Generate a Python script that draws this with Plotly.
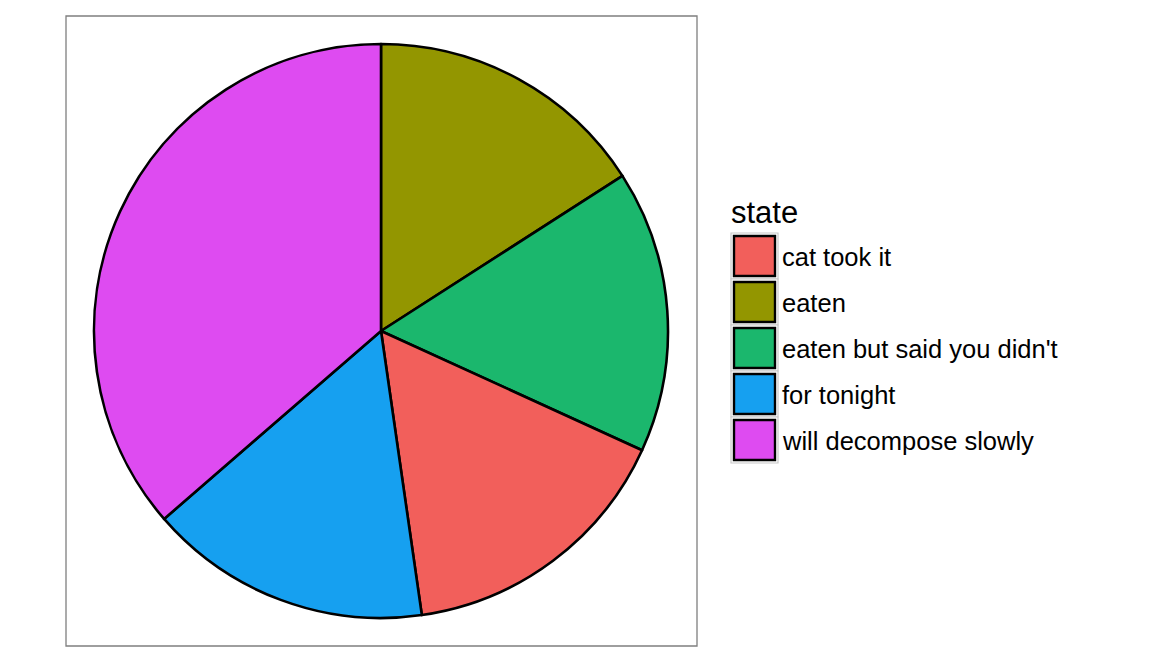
import plotly.graph_objects as go

# Data (slice order clockwise from 12 o'clock)
slice_labels = ["eaten", "eaten but said you didn't", "cat took it", "for tonight", "will decompose slowly"]
slice_values = [7, 7, 7, 7, 16]

# Legend order and colours
legend_labels = ["cat took it", "eaten", "eaten but said you didn't", "for tonight", "will decompose slowly"]
legend_colors = ["#F25F5B", "#939600", "#1BB76D", "#16A0F0", "#DE4BF1"]
color_map = dict(zip(legend_labels, legend_colors))

W, H = 1152, 672
OFF = 8  # page body margin
def px(x):
    return (x - OFF) / W
def py(y):
    return 1 - (y - OFF) / H

fig = go.Figure()
fig.add_trace(go.Pie(
    labels=slice_labels,
    values=slice_values,
    sort=False,
    direction="clockwise",
    rotation=0,
    textinfo="none",
    hoverinfo="label+value",
    marker=dict(colors=[color_map[l] for l in slice_labels],
                line=dict(color="black", width=2.6)),
    domain=dict(x=[px(94), px(668)], y=[py(618), py(44)]),
    showlegend=False,
))

shapes = [
    # panel border
    dict(type="rect", xref="paper", yref="paper",
         x0=px(66), x1=px(697), y0=py(646), y1=py(16),
         line=dict(color="#7F7F7F", width=1.3), fillcolor="rgba(0,0,0,0)", layer="below"),
]
annotations = [
    dict(text="state", xref="paper", yref="paper", x=px(729), y=py(212),
         xanchor="left", yanchor="middle", showarrow=False,
         font=dict(family="Liberation Sans, Arial, sans-serif", size=31, color="black")),
]
key_top = 233
key_h = 46
for i, (lab, col) in enumerate(zip(legend_labels, legend_colors)):
    y0 = key_top + i * key_h
    y1 = y0 + key_h
    shapes.append(dict(type="rect", xref="paper", yref="paper",
                       x0=px(731), x1=px(778), y0=py(y1), y1=py(y0),
                       line=dict(color="#C8C8C8", width=1.2), fillcolor="white"))
    shapes.append(dict(type="rect", xref="paper", yref="paper",
                       x0=px(734), x1=px(775), y0=py(y1 - 3), y1=py(y0 + 3),
                       line=dict(color="black", width=2.4), fillcolor=col))
    annotations.append(dict(text=lab, xref="paper", yref="paper",
                            x=px(780), y=py((y0 + y1) / 2 + 1),
                            xanchor="left", yanchor="middle", showarrow=False,
                            font=dict(family="Liberation Sans, Arial, sans-serif", size=25.5, color="black")))

fig.update_layout(
    width=W, height=H,
    margin=dict(l=0, r=0, t=0, b=0),
    paper_bgcolor="white",
    plot_bgcolor="white",
    shapes=shapes,
    annotations=annotations,
    showlegend=False,
)

fig.write_html("out.html")
